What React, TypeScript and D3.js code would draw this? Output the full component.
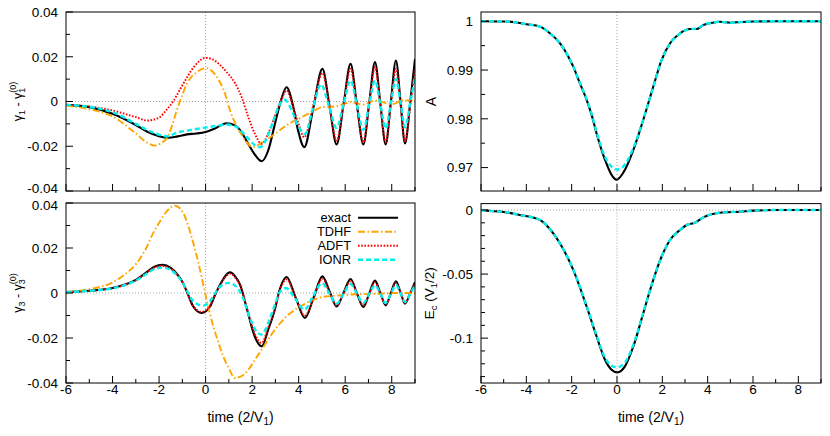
import React from "react";
import * as d3 from "d3";

type Pt = [number, number];

// ---------- axis ticks ----------
const T_MAJOR = [-6, -4, -2, 0, 2, 4, 6, 8];
const T_MINOR = [-5, -3, -1, 1, 3, 5, 7, 9];
const G_MAJOR = [-0.04, -0.02, 0, 0.02, 0.04];
const G_LABELS = ["-0.04", "-0.02", "0", "0.02", "0.04"];
const G_MINOR = [-0.03, -0.01, 0.01, 0.03];
const A_MAJOR = [0.97, 0.98, 0.99, 1];
const A_LABELS = ["0.97", "0.98", "0.99", "1"];
const A_MINOR = [0.975, 0.985, 0.995];
const E_MAJOR = [-0.1, -0.05, 0];
const E_LABELS = ["-0.1", "-0.05", "0"];
const E_MINOR = [-0.13, -0.12, -0.11, -0.09, -0.08, -0.07, -0.06, -0.04, -0.03, -0.02, -0.01];

const LEGEND = ["exact", "TDHF", "ADFT", "IONR"];

// ---------- gamma_1 - gamma_1^(0) ----------
const g1Exact: Pt[] = [
  [-6, -0.0015], [-5, -0.0025], [-4, -0.0055], [-3, -0.0105], [-2.5, -0.0135], [-2, -0.0155],
  [-1.6, -0.0162], [-1.2, -0.0156], [-0.8, -0.0147], [-0.4, -0.0143], [0, -0.0136], [0.4, -0.0121],
  [0.9, -0.0097], [1.26, -0.0107], [1.5, -0.013], [1.83, -0.0189], [2.12, -0.0238], [2.41, -0.0267],
  [2.69, -0.0219], [2.98, -0.01], [3.26, 0.0012], [3.48, 0.0064], [3.77, -0.0025], [3.98, -0.0132],
  [4.24, -0.0204], [4.63, -0.0029], [5.02, 0.0146], [5.33, -0.0023], [5.63, -0.0192], [5.93, -0.0012],
  [6.23, 0.0168], [6.5, -0.0012], [6.78, -0.0192], [7.03, -0.0008], [7.28, 0.0176], [7.51, -0.0008],
  [7.74, -0.0192], [7.96, -0.0004], [8.18, 0.0183], [8.38, -0.0003], [8.57, -0.0188], [8.8, 0.0002],
  [9.0, 0.019],
];
const g1Tdhf: Pt[] = [
  [-6, -0.0018], [-5, -0.0035], [-4, -0.0067], [-3, -0.0143], [-2.5, -0.0185], [-2.18, -0.0197],
  [-1.9, -0.0185], [-1.67, -0.0165], [-1.45, -0.011], [-1.24, -0.004], [-1.0, 0.003], [-0.81, 0.0079],
  [-0.38, 0.0131], [0.05, 0.0149], [0.35, 0.0128], [0.62, 0.0086], [0.85, 0.003], [1.05, -0.004],
  [1.26, -0.0095], [1.48, -0.0137], [1.75, -0.018], [2.05, -0.0204], [2.4, -0.0185], [2.98, -0.0145],
  [3.5, -0.0105], [4.13, -0.007], [4.6, -0.0045], [5.02, -0.0025], [5.56, -0.0022], [6.25, -0.0003],
  [6.75, -0.0014], [7.28, 0.0004], [8.0, -0.0012], [8.5, 0.0005], [9.0, 0.0004],
];
const g1Adft: Pt[] = [
  [-6, -0.0015], [-5, -0.0022], [-4, -0.004], [-3, -0.007], [-2.5, -0.0085], [-2, -0.0072],
  [-1.7, -0.004], [-1.4, 0.0], [-1.0, 0.0072], [-0.5, 0.0155], [0, 0.0195], [0.3, 0.0188],
  [0.6, 0.0165], [0.9, 0.0132], [1.26, 0.0083], [1.55, 0.0019], [1.83, -0.0068], [2.12, -0.0145],
  [2.41, -0.0189], [2.7, -0.014], [2.98, -0.0065], [3.26, 0.001], [3.48, 0.0049], [3.77, -0.003],
  [3.98, -0.0095], [4.24, -0.016], [4.63, -0.0017], [5.02, 0.0127], [5.33, -0.0024], [5.63, -0.0174],
  [5.93, -0.0014], [6.23, 0.0146], [6.5, -0.0018], [6.78, -0.0182], [7.03, -0.0015], [7.28, 0.0153],
  [7.51, -0.0015], [7.74, -0.0182], [7.96, -0.0018], [8.18, 0.0146], [8.38, -0.002], [8.57, -0.0178],
  [8.8, -0.0015], [9.0, 0.0145],
];
const g1Ionr: Pt[] = [
  [-6, -0.0015], [-5, -0.0024], [-4, -0.0048], [-3, -0.01], [-2.5, -0.0128], [-2, -0.0148],
  [-1.65, -0.0156], [-1.2, -0.0138], [-0.8, -0.013], [-0.1, -0.0118], [0.48, -0.0109], [0.91, -0.0103],
  [1.26, -0.011], [1.48, -0.0127], [1.83, -0.0165], [2.12, -0.0195], [2.34, -0.0204], [2.65, -0.016],
  [2.9, -0.009], [3.15, -0.002], [3.4, 0.0008], [3.7, -0.004], [3.98, -0.011], [4.27, -0.0145],
  [4.6, -0.0035], [4.96, 0.0076], [5.3, -0.002], [5.63, -0.0118], [5.93, -0.0012], [6.23, 0.0094],
  [6.5, -0.0015], [6.78, -0.0127], [7.03, -0.0015], [7.28, 0.0094], [7.51, -0.0012], [7.74, -0.0122],
  [7.96, -0.001], [8.18, 0.0101], [8.38, -0.0004], [8.57, -0.0115], [8.8, -0.0002], [9.0, 0.011],
];

// ---------- gamma_3 - gamma_3^(0) ----------
const g3Exact: Pt[] = [
  [-6, 0.0004], [-5, 0.001], [-4, 0.0022], [-3, 0.0058], [-2.5, 0.0095], [-2.2, 0.0117],
  [-1.85, 0.0125], [-1.5, 0.0112], [-1.24, 0.0086], [-1.0, 0.005], [-0.81, 0.0007], [-0.53, -0.006],
  [-0.17, -0.0089], [0.19, -0.006], [0.4, -0.001], [0.62, 0.0037], [1.05, 0.0092], [1.26, 0.0075],
  [1.48, 0.0037], [1.8, -0.008], [2.1, -0.019], [2.41, -0.0237], [2.7, -0.016], [2.95, -0.0083],
  [3.2, 0.002], [3.48, 0.0071], [3.87, -0.002], [4.27, -0.0111], [4.65, -0.0018], [5.02, 0.0074],
  [5.33, 0.0007], [5.63, -0.006], [5.93, 0.0001], [6.23, 0.0062], [6.5, 0.0], [6.78, -0.0062],
  [7.03, -0.0003], [7.28, 0.0055], [7.51, 0.0], [7.74, -0.0055], [7.96, -0.0001], [8.18, 0.0052],
  [8.38, 0.0002], [8.57, -0.0047], [8.8, 0.0], [9.0, 0.0048],
];
const g3Tdhf: Pt[] = [
  [-6, 0.0005], [-5, 0.0017], [-4, 0.0047], [-3.5, 0.008], [-2.96, 0.0133], [-2.6, 0.019],
  [-2.25, 0.0267], [-1.95, 0.032], [-1.67, 0.0363], [-1.32, 0.0388], [-0.96, 0.0356], [-0.75, 0.03],
  [-0.53, 0.0222], [-0.3, 0.013], [-0.1, 0.0037], [0.1, -0.0055], [0.33, -0.0148], [0.55, -0.022],
  [0.76, -0.0282], [1.0, -0.0335], [1.26, -0.0378], [1.5, -0.0372], [1.84, -0.0341], [2.1, -0.03],
  [2.41, -0.0252], [2.98, -0.0163], [3.48, -0.0104], [3.9, -0.007], [4.27, -0.0048], [5.02, -0.0018],
  [5.6, -0.0012], [6.23, -0.0007], [7.28, -0.0004], [8.18, 0.0], [9.0, 0.0],
];
const g3Adft: Pt[] = [
  [-6, 0.0004], [-5, 0.001], [-4, 0.0021], [-3, 0.0056], [-2.5, 0.0092], [-2.2, 0.0113],
  [-1.85, 0.012], [-1.5, 0.0108], [-1.24, 0.0083], [-1.0, 0.0048], [-0.81, 0.0006], [-0.53, -0.0058],
  [-0.17, -0.0084], [0.19, -0.0057], [0.4, -0.001], [0.62, 0.0034], [1.05, 0.0086], [1.26, 0.0071],
  [1.48, 0.0034], [1.8, -0.0075], [2.1, -0.0178], [2.41, -0.0222], [2.7, -0.015], [2.95, -0.0078],
  [3.2, 0.0015], [3.48, 0.006], [3.87, -0.002], [4.27, -0.01], [4.65, -0.002], [5.02, 0.0063],
  [5.33, 0.0003], [5.63, -0.0055], [5.93, 0.0], [6.23, 0.0052], [6.5, -0.0002], [6.78, -0.0055],
  [7.03, -0.0003], [7.28, 0.0047], [7.51, -0.0002], [7.74, -0.005], [7.96, -0.0002], [8.18, 0.0045],
  [8.38, 0.0], [8.57, -0.0043], [8.8, 0.0], [9.0, 0.0042],
];
const g3Ionr: Pt[] = [
  [-6, 0.0004], [-5, 0.001], [-4, 0.0021], [-3, 0.0055], [-2.5, 0.0088], [-2.2, 0.0106],
  [-1.85, 0.0113], [-1.5, 0.0102], [-1.24, 0.008], [-1.0, 0.0048], [-0.8, 0.001], [-0.5, -0.004],
  [-0.1, -0.0056], [0.2, -0.0035], [0.45, 0.0005], [0.7, 0.0035], [1.0, 0.0045], [1.3, 0.003],
  [1.6, -0.002], [1.9, -0.011], [2.15, -0.0165], [2.4, -0.0185], [2.7, -0.013], [2.95, -0.006],
  [3.2, 0.0005], [3.45, 0.0022], [3.85, -0.0025], [4.25, -0.0074], [4.62, -0.0015], [5.0, 0.0044],
  [5.32, -0.0002], [5.63, -0.0047], [5.93, -0.0003], [6.23, 0.004], [6.5, -0.0002], [6.78, -0.0044],
  [7.03, -0.0004], [7.28, 0.0035], [7.51, -0.0004], [7.74, -0.0044], [7.96, -0.0004], [8.18, 0.0035],
  [8.38, -0.0002], [8.57, -0.004], [8.8, -0.0003], [9.0, 0.0035],
];

// ---------- A ----------
const aExact: Pt[] = [
  [-6, 1.0], [-5, 0.99995], [-4.5, 0.9998], [-4, 0.9994], [-3.4, 0.9989], [-3, 0.9977],
  [-2.52, 0.9955], [-2.2, 0.9932], [-1.93, 0.9907], [-1.63, 0.9872], [-1.34, 0.9839], [-1.1, 0.9805],
  [-0.9, 0.977], [-0.53, 0.9716], [-0.24, 0.9685], [-0.02, 0.9675], [0.27, 0.9689], [0.72, 0.9736],
  [1.16, 0.9798], [1.6, 0.9866], [1.97, 0.9921], [2.34, 0.9955], [2.78, 0.9975], [3.22, 0.9984],
  [3.52, 0.9984], [3.81, 0.99924], [4.2, 0.9997], [4.54, 0.9999], [5, 0.9997], [5.5, 0.99985],
  [6, 0.99995], [7, 1.0], [9, 1.0],
];
const aIonr: Pt[] = [
  [-6, 1.0], [-5, 0.99995], [-4.5, 0.9998], [-4, 0.9994], [-3.4, 0.9989], [-3, 0.9977],
  [-2.52, 0.9955], [-2.2, 0.9932], [-1.93, 0.9907], [-1.63, 0.9873], [-1.34, 0.984], [-1.1, 0.9807],
  [-0.9, 0.9773], [-0.53, 0.9722], [-0.24, 0.9702], [0, 0.9696], [0.27, 0.9702], [0.72, 0.974],
  [1.16, 0.9799], [1.6, 0.9865], [1.97, 0.992], [2.34, 0.9954], [2.78, 0.9975], [3.22, 0.9984],
  [3.52, 0.9985], [3.81, 0.99924], [4.2, 0.9997], [4.54, 0.9999], [5, 0.9997], [5.5, 0.99985],
  [6, 0.99995], [7, 1.0], [9, 1.0],
];

// ---------- E_c ----------
const eExact: Pt[] = [
  [-6, 0.0], [-5.75, -0.0005], [-5, -0.0015], [-4.28, -0.0039], [-3.4, -0.0078], [-3, -0.014],
  [-2.52, -0.026], [-1.93, -0.0467], [-1.34, -0.0753], [-0.9, -0.0987], [-0.53, -0.1168], [-0.24, -0.1246],
  [0.01, -0.1267], [0.35, -0.122], [0.72, -0.1065], [1.16, -0.0805], [1.6, -0.0545], [1.97, -0.0363],
  [2.34, -0.0234], [2.78, -0.0156], [3.07, -0.0117], [3.44, -0.0099], [3.81, -0.0057], [4.54, -0.0021],
  [5.42, -0.0013], [6, -0.0005], [7, 0.0], [9, 0.0],
];
const eIonr: Pt[] = [
  [-6, 0.0], [-5.75, -0.0005], [-5, -0.0015], [-4.28, -0.0039], [-3.4, -0.0078], [-3, -0.014],
  [-2.52, -0.026], [-1.93, -0.0465], [-1.34, -0.0748], [-0.9, -0.0978], [-0.53, -0.1152], [-0.24, -0.1215],
  [0, -0.1228], [0.35, -0.119], [0.72, -0.1052], [1.16, -0.08], [1.6, -0.0545], [1.97, -0.0363],
  [2.34, -0.0234], [2.78, -0.0156], [3.07, -0.0117], [3.44, -0.0099], [3.81, -0.0057], [4.54, -0.0021],
  [5.42, -0.0013], [6, -0.0005], [7, 0.0], [9, 0.0],
];

// ---------- styles ----------
const STYLE: Record<string, { stroke: string; width: number; dash?: string }> = {
  exact: { stroke: "#000000", width: 2.1 },
  TDHF: { stroke: "#FFA500", width: 1.9, dash: "7,2.5,1.5,2.5" },
  ADFT: { stroke: "#FF0000", width: 1.9, dash: "1.6,1.6" },
  IONR: { stroke: "#00F0F0", width: 2.4, dash: "5,3" },
};

const FONT = "'Liberation Sans', Arial, Helvetica, sans-serif";

type Series = { name: string; data: Pt[] };

interface PanelProps {
  id: string;
  left: number;
  right: number;
  top: number;
  bottom: number;
  yDomain: [number, number];
  yMajor: number[];
  yLabels: string[];
  yMinor: number[];
  labelShift?: number[];
  series: Series[];
  xLabels: boolean;
  hZero: boolean;
  yTitle: React.ReactNode;
  yTitleX: number;
  legend?: boolean;
}

function Panel(p: PanelProps) {
  const x = d3.scaleLinear().domain([-6, 9]).range([p.left, p.right]);
  const y = d3.scaleLinear().domain(p.yDomain).range([p.bottom, p.top]);
  const line = d3
    .line<Pt>()
    .x((d) => x(d[0]))
    .y((d) => y(d[1]))
    .curve(d3.curveMonotoneX);
  const cy = (p.top + p.bottom) / 2;
  const cx = (p.left + p.right) / 2;
  return (
    <g>
      <defs>
        <clipPath id={p.id}>
          <rect x={p.left} y={p.top} width={p.right - p.left} height={p.bottom - p.top} />
        </clipPath>
      </defs>
      <line x1={x(0)} x2={x(0)} y1={p.top} y2={p.bottom} stroke="#999" strokeWidth={0.9} strokeDasharray="1,2" />
      {p.hZero && (
        <line x1={p.left} x2={p.right} y1={y(0)} y2={y(0)} stroke="#999" strokeWidth={0.9} strokeDasharray="1,2" />
      )}
      <g clipPath={`url(#${p.id})`}>
        {p.series.map((s) => {
          const st = STYLE[s.name];
          return (
            <path
              key={s.name}
              d={line(s.data) || ""}
              fill="none"
              stroke={st.stroke}
              strokeWidth={st.width}
              strokeDasharray={st.dash}
              strokeLinejoin="round"
            />
          );
        })}
      </g>
      {T_MAJOR.map((t) => (
        <line key={"xm" + t} x1={x(t)} x2={x(t)} y1={p.bottom} y2={p.bottom - 7} stroke="#000" strokeWidth={1} />
      ))}
      {T_MINOR.map((t) => (
        <line key={"xn" + t} x1={x(t)} x2={x(t)} y1={p.bottom} y2={p.bottom - 4} stroke="#000" strokeWidth={1} />
      ))}
      {p.yMajor.map((v) => (
        <line key={"ym" + v} x1={p.left} x2={p.left + 7} y1={y(v)} y2={y(v)} stroke="#000" strokeWidth={1} />
      ))}
      {p.yMinor.map((v) => (
        <line key={"yn" + v} x1={p.left} x2={p.left + 4} y1={y(v)} y2={y(v)} stroke="#000" strokeWidth={1} />
      ))}
      <rect x={p.left} y={p.top} width={p.right - p.left} height={p.bottom - p.top} fill="none" stroke="#000" strokeWidth={1} />
      {p.yMajor.map((v, i) => (
        <text
          key={"yl" + v}
          x={p.left - 8}
          y={y(v) + (p.labelShift ? p.labelShift[i] : 0)}
          dy="0.36em"
          textAnchor="end"
          fontSize={13.5}
          fontFamily={FONT}
        >
          {p.yLabels[i]}
        </text>
      ))}
      {p.xLabels &&
        T_MAJOR.map((t) => (
          <text key={"xl" + t} x={x(t)} y={p.bottom + 10.5} textAnchor="middle" fontSize={13.5} fontFamily={FONT}>
            {t}
          </text>
        ))}
      {p.xLabels && (
        <text x={cx} y={p.bottom + 38.5} textAnchor="middle" fontSize={14} fontFamily={FONT}>
          time (2/V<tspan dy={3} fontSize={10}>1</tspan>
          <tspan dy={-3}>)</tspan>
        </text>
      )}
      <g transform={`translate(${p.yTitleX},${cy}) rotate(-90)`}>{p.yTitle}</g>
      {p.legend &&
        LEGEND.map((name, i) => {
          const ly = 217.8 + i * 14;
          const st = STYLE[name];
          return (
            <g key={"lg" + name}>
              <text x={351} y={ly} dy="0.36em" textAnchor="end" fontSize={12.8} fontFamily={FONT}>
                {name}
              </text>
              <line x1={358} x2={398} y1={ly} y2={ly} stroke={st.stroke} strokeWidth={st.width} strokeDasharray={st.dash} />
            </g>
          );
        })}
    </g>
  );
}

const gammaTitle = (k: string) => (
  <text textAnchor="middle" fontSize={12.5} fontFamily={FONT}>
    γ<tspan dy={3} fontSize={9}>{k}</tspan>
    <tspan dy={-3}> - γ</tspan>
    <tspan dy={3} fontSize={9}>{k}</tspan>
    <tspan dx={-5} dy={-9} fontSize={9}>(0)</tspan>
  </text>
);

export default function App() {
  const s4 = (e: Pt[], t: Pt[], a: Pt[], i: Pt[]): Series[] => [
    { name: "exact", data: e },
    { name: "TDHF", data: t },
    { name: "ADFT", data: a },
    { name: "IONR", data: i },
  ];
  return (
    <svg width={830} height={436} style={{ position: "absolute", left: 0, top: 0, background: "#fff" }}>
      <rect x={0} y={0} width={830} height={436} fill="#fff" />
      <Panel
        id="c1"
        left={66}
        right={415}
        top={12}
        bottom={191}
        yDomain={[-0.04, 0.04]}
        yMajor={G_MAJOR}
        yLabels={G_LABELS}
        yMinor={G_MINOR}
        labelShift={[-2.5, 0, 0, 0, 0]}
        series={s4(g1Exact, g1Tdhf, g1Adft, g1Ionr)}
        xLabels={false}
        hZero={true}
        yTitle={gammaTitle("1")}
        yTitleX={22}
      />
      <Panel
        id="c2"
        left={66}
        right={415}
        top={203}
        bottom={383}
        yDomain={[-0.04, 0.04]}
        yMajor={G_MAJOR}
        yLabels={G_LABELS}
        yMinor={G_MINOR}
        labelShift={[0, 0, 0, 0, 2.5]}
        series={s4(g3Exact, g3Tdhf, g3Adft, g3Ionr)}
        xLabels={true}
        hZero={true}
        yTitle={gammaTitle("3")}
        yTitleX={22}
        legend={true}
      />
      <Panel
        id="c3"
        left={481}
        right={821}
        top={12}
        bottom={191}
        yDomain={[0.9652, 1.0019]}
        yMajor={A_MAJOR}
        yLabels={A_LABELS}
        yMinor={A_MINOR}
        series={[
          { name: "exact", data: aExact },
          { name: "IONR", data: aIonr },
        ]}
        xLabels={false}
        hZero={false}
        yTitle={
          <text textAnchor="middle" fontSize={14} fontFamily={FONT}>
            A
          </text>
        }
        yTitleX={435.5}
      />
      <Panel
        id="c4"
        left={481}
        right={821}
        top={203.6}
        bottom={383}
        yDomain={[-0.135, 0.005]}
        yMajor={E_MAJOR}
        yLabels={E_LABELS}
        yMinor={E_MINOR}
        series={[
          { name: "exact", data: eExact },
          { name: "IONR", data: eIonr },
        ]}
        xLabels={true}
        hZero={true}
        yTitle={
          <text textAnchor="middle" fontSize={13.5} fontFamily={FONT}>
            E<tspan dy={3} fontSize={9.5}>c</tspan>
            <tspan dy={-3}> (V</tspan>
            <tspan dy={3} fontSize={9.5}>1</tspan>
            <tspan dy={-3}>/2)</tspan>
          </text>
        }
        yTitleX={434}
      />
    </svg>
  );
}
